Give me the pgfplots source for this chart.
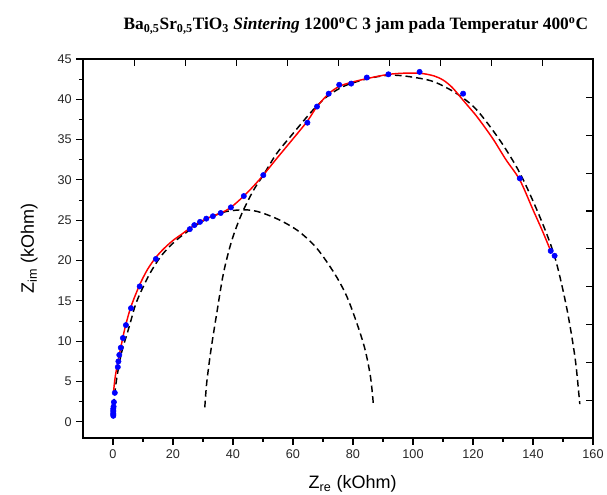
\documentclass[border=0pt]{standalone}
\usepackage{fontspec}
\setmainfont{Liberation Serif}
\setsansfont{Liberation Sans}
\usepackage{pgfplots}
\pgfplotsset{compat=1.18}

% blue measured points
\pgfplotstableread{
x y
0.1 0.75
0.1 0.9
0.1 1.05
0.1 1.25
0.1 1.45
0.1 1.65
0.2 1.9
0.3 2.45
0.6 3.6
1.6 6.8
1.8 7.5
2.1 8.3
2.6 9.2
3.3 10.4
4.3 12.0
6.0 14.1
8.9 16.8
14.3 20.2
25.6 23.9
27.1 24.4
29.0 24.8
31.1 25.2
33.3 25.5
35.9 25.9
39.3 26.6
43.6 28.0
50.1 30.6
64.8 37.1
68.0 39.1
71.9 40.7
75.4 41.8
79.4 41.95
84.6 42.7
91.8 43.1
102.2 43.4
116.7 40.7
135.6 30.2
145.9 21.2
147.2 20.6
}\measured

% red fit
\pgfplotstableread{
x y
0.2 3.8
0.6 5.2
1.1 6.4
1.6 7.3
2.1 8.3
2.7 9.4
3.3 10.5
4.3 12.1
6.0 14.3
8.9 17.0
11.5 18.9
14.3 20.4
17 21.5
20 22.5
23 23.3
25.6 24.0
29 24.8
33 25.5
36 25.9
39.3 26.6
43.6 28.0
47 29.3
50.1 30.6
54 32.4
58 34.2
62 36.0
65 37.4
68 39.1
71.9 40.7
75.4 41.6
79.4 42.1
85 42.6
92 43.1
98 43.25
103 43.2
107 42.9
110 42.4
113 41.5
116 40.2
118.5 39.1
121 38.0
124 36.5
127 34.9
131 32.5
135.6 30.0
140 26.3
143 23.8
145.9 21.2
}\fit

% first dashed arc
\pgfplotstableread{
x y
0.05 0.7
0.3 2.5
0.8 4.2
1.5 6.0
2.5 8.0
3.5 9.5
4.6 10.8
6 12.6
7.3 14.3
9 15.9
12.3 18.4
15.7 20.4
19 21.8
22.3 22.9
25.6 23.8
29 24.7
33.3 25.5
37.9 26.1
44 26.3
49 26.0
55.7 25.0
62 23.6
68 21.5
74 18.3
78 15.5
81.5 12.0
84 9.0
85.7 5.9
86.5 3.4
86.8 2.0
}\arcone

% second dashed arc
\pgfplotstableread{
x y
30.6 1.8
31.2 4.7
32.3 8.0
33.3 10.5
34.6 13.5
36.8 18.4
39.6 22.5
42.9 25.8
46.8 28.7
50.1 30.6
54.6 33.3
60.1 35.8
64.6 37.8
68 39.2
71.9 40.5
76.8 41.6
82.3 42.3
88 42.8
93 43.0
99 42.8
106.8 42.2
114.6 40.7
121.2 38.7
129 34.9
135.7 30.8
142.3 25.4
147.3 20.4
151.2 14.2
154 8.0
155.4 3.0
155.6 2.2
}\arctwo

\begin{document}
\begin{tikzpicture}
\pgfplotsset{
  base/.style={
    scale only axis,
    width=382.5pt, height=284.25pt,
    xmin=-10, xmax=160, ymin=-2, ymax=45,
    axis line style={line width=0.8pt},
    tick style={line width=0.8pt, black},
  }
}
\begin{axis}[base,
  xtick={0,20,...,160}, ytick={0,5,...,45},
  minor x tick num=1, minor y tick num=1,
  xtick pos=bottom, ytick pos=left,
  tick align=outside,
  major tick length=5pt, minor tick length=3pt,
  ticklabel style={font=\sffamily\fontsize{9.5}{11}\selectfont, black!85},
  /pgf/number format/assume math mode=true,
  label style={font=\sffamily\fontsize{13.5}{15}\selectfont},
  xlabel={Z\textsubscript{re} (kOhm)},
  ylabel={Z\textsubscript{im} (kOhm)},
  xlabel style={yshift=-6pt, xshift=11pt},
  ylabel style={yshift=8pt},
  title={Ba\textsubscript{0,5}Sr\textsubscript{0,5}TiO\textsubscript{3} \textit{Sintering} 1200\textsuperscript{o}C 3 jam pada Temperatur 400\textsuperscript{o}C},
  title style={font=\bfseries\fontsize{13}{15}\selectfont, at={(rel axis cs:0.535,1)}, anchor=base, yshift=16pt},
]
\addplot[black, line width=1.1pt, dash pattern=on 5pt off 3pt, smooth, tension=0.5] table {\arcone};
\addplot[black, line width=1.1pt, dash pattern=on 5pt off 3pt, smooth, tension=0.5] table {\arctwo};
\addplot[red, line width=1.1pt, smooth, tension=0.5] table {\fit};
\addplot[only marks, mark=*, mark size=2pt, color=blue, mark options={fill=blue, draw=blue}] table {\measured};
\end{axis}
\begin{axis}[base,
  axis lines=box,
  xtick={7.3,24.3,...,143.3}, ytick={2.7,7.39,...,40.3},
  xtick pos=right, ytick pos=right,
  tick align=inside, major tick length=5pt,
  xticklabels={}, yticklabels={},
]
\end{axis}
\pgfresetboundingbox
\path[use as bounding box] (-62.25pt,-42.75pt) rectangle (393pt,328.5pt);
\end{tikzpicture}
\end{document}
